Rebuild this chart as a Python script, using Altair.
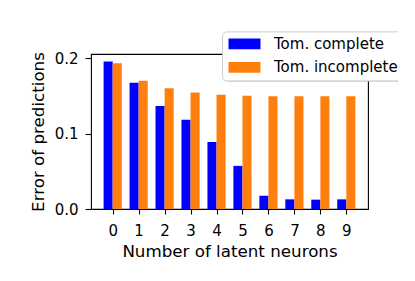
import altair as alt
import pandas as pd

neurons = list(range(10))
complete = [0.1955, 0.1673, 0.1365, 0.1185, 0.0889, 0.0572, 0.0176, 0.0128, 0.0124, 0.0128]
incomplete = [0.1933, 0.1700, 0.1603, 0.1546, 0.1515, 0.1502, 0.1497, 0.1497, 0.1497, 0.1497]
series_names = ["Tom. complete", "Tom. incomplete"]
colors = ["#0000ff", "#ff7f0e"]

rows = []
for n, c, i in zip(neurons, complete, incomplete):
    rows.append({"n": n, "series": series_names[0], "value": c, "off": -0.35})
    rows.append({"n": n, "series": series_names[1], "value": i, "off": 0.0})
df = pd.DataFrame(rows)

FONT = "DejaVu Sans"
LBL = 15
TTL = 16.7

bars = alt.Chart(df).transform_calculate(
    x1="datum.n + datum.off", x2="datum.n + datum.off + 0.35"
).mark_bar().encode(
    x=alt.X("x1:Q", scale=alt.Scale(domain=[-0.835, 9.835], nice=False, zero=False),
            axis=alt.Axis(values=neurons, format="d", title="Number of latent neurons",
                          grid=False, tickSize=5, tickColor="black", tickWidth=1.1, domain=False,
                          labelFontSize=LBL, titleFontSize=TTL, labelPadding=9,
                          titlePadding=5, labelColor="black", titleColor="black",
                          labelFont=FONT, titleFont=FONT, titleFontWeight="normal")),
    x2="x2:Q",
    y=alt.Y("value:Q", scale=alt.Scale(domain=[0, 0.2056], nice=False),
            axis=alt.Axis(values=[0, 0.1, 0.2], format=".1f", title="Error of predictions",
                          grid=False, tickSize=6, tickColor="black", tickWidth=1.1, domain=False,
                          labelFontSize=LBL, titleFontSize=TTL, labelPadding=7,
                          titlePadding=7, labelColor="black", titleColor="black",
                          labelFont=FONT, titleFont=FONT, titleFontWeight="normal")),
    y2=alt.datum(0),
    color=alt.Color("series:N", scale=alt.Scale(domain=series_names, range=colors),
                    legend=alt.Legend(orient="none", legendX=131, legendY=-22.6, title=None,
                                      symbolType="M-1,-0.92h5.33v1.83h-5.33z", symbolSize=144,
                                      symbolStrokeWidth=0, labelFontSize=LBL, labelFont=FONT,
                                      labelColor="black", labelOffset=32, rowPadding=7.5,
                                      padding=5, fillColor="white", strokeColor="#cccccc",
                                      cornerRadius=4, symbolOpacity=1)),
)

shadow = alt.Chart(alt.Data(values=[{}])).mark_rect(
    color="#888888", opacity=0.6, cornerRadius=4
).encode(
    x=alt.value(134), x2=alt.value(318), y=alt.value(-19.6), y2=alt.value(27.5)
)

chart = alt.layer(bars, shadow).properties(
    width=277, height=155,
    autosize=alt.AutoSizeParams(type="none"),
    padding={"left": 83, "top": 46, "right": 30, "bottom": 60},
).configure_view(stroke="black", strokeWidth=1.1)

chart.save("out.html", embed_options={"renderer": "svg", "actions": False})
